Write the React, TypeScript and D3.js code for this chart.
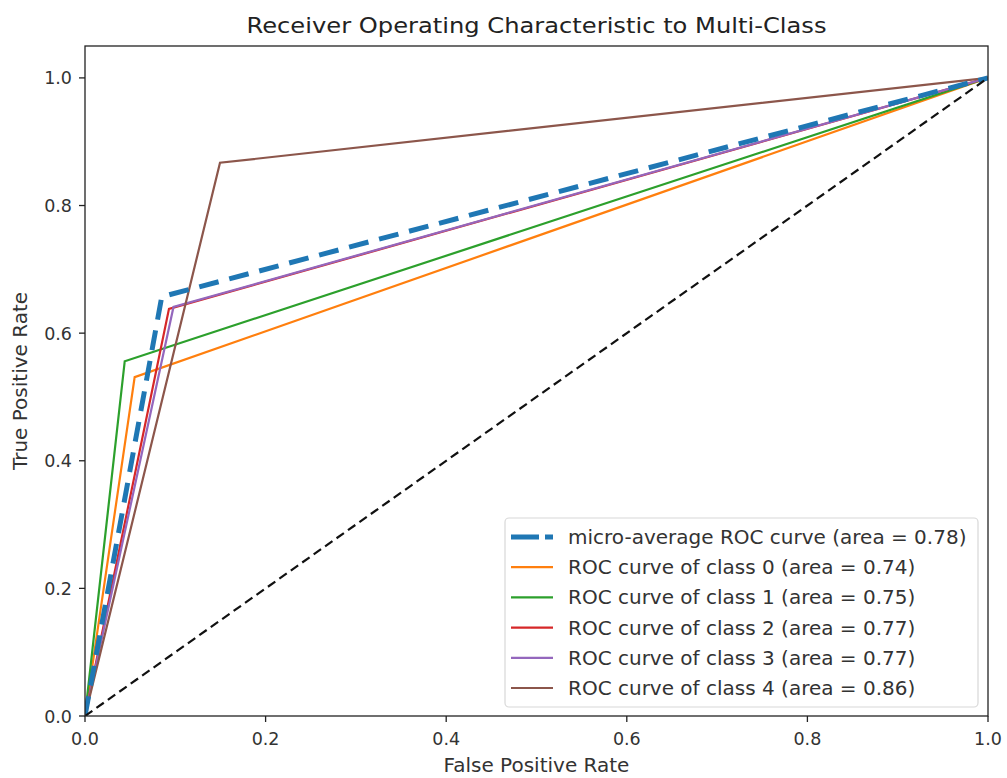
import React from 'react'
import * as d3 from 'd3'

// ROC points: [fpr, tpr]
const microPoints: [number, number][] = [[0, 0], [0.085, 0.657], [1, 1]]
const class0Points: [number, number][] = [[0, 0], [0.055, 0.531], [1, 1]]
const class1Points: [number, number][] = [[0, 0], [0.044, 0.556], [1, 1]]
const class2Points: [number, number][] = [[0, 0], [0.093, 0.638], [1, 1]]
const class3Points: [number, number][] = [[0, 0], [0.098, 0.641], [1, 1]]
const class4Points: [number, number][] = [[0, 0], [0.1495, 0.867], [1, 1]]
const chancePoints: [number, number][] = [[0, 0], [1, 1]]

const seriesLabels = [
  'micro-average ROC curve (area = 0.78)',
  'ROC curve of class 0 (area = 0.74)',
  'ROC curve of class 1 (area = 0.75)',
  'ROC curve of class 2 (area = 0.77)',
  'ROC curve of class 3 (area = 0.77)',
  'ROC curve of class 4 (area = 0.86)',
]
const seriesColors = ['#1f77b4', '#ff7f0e', '#2ca02c', '#d62728', '#9467bd', '#8c564b']
const tickValues = [0, 0.2, 0.4, 0.6, 0.8, 1.0]

const W = 1007
const H = 778
const margin = { left: 85, right: 19, top: 46, bottom: 62 }
const font = 'DejaVu Sans, sans-serif'

export default function App() {
  const x = d3.scaleLinear().domain([0, 1]).range([margin.left, W - margin.right])
  const y = d3.scaleLinear().domain([0, 1.05]).range([H - margin.bottom, margin.top])
  const line = d3.line<[number, number]>().x(d => x(d[0])).y(d => y(d[1]))

  const series = [microPoints, class0Points, class1Points, class2Points, class3Points, class4Points]
  const plotW = x(1) - x(0)
  const plotH = y(0) - y(1.05)

  // legend geometry
  const legX = 505
  const legY = 518
  const legW = 473
  const legH = 189
  const rowH = 30.2

  return (
    <svg width={W} height={H} style={{ position: 'absolute', left: 0, top: 0, background: '#fff' }}>
      <rect x={0} y={0} width={W} height={H} fill="#fff" />
      <defs>
        <clipPath id="plot">
          <rect x={x(0)} y={y(1.05)} width={plotW} height={plotH} />
        </clipPath>
      </defs>

      <g clipPath="url(#plot)">
        {series.slice(1).map((pts, i) => (
          <path key={i} d={line(pts) || ''} fill="none" stroke={seriesColors[i + 1]} strokeWidth={2.2} />
        ))}
        <path d={line(microPoints) || ''} fill="none" stroke={seriesColors[0]} strokeWidth={5}
          strokeDasharray="20 11" />
        <path d={line(chancePoints) || ''} fill="none" stroke="#111" strokeWidth={2.2} strokeDasharray="9 5" />
      </g>

      {/* frame */}
      <rect x={x(0)} y={y(1.05)} width={plotW} height={plotH} fill="none" stroke="#222" strokeWidth={1.3} />

      {/* x axis */}
      {tickValues.map(t => (
        <g key={'x' + t}>
          <line x1={x(t)} x2={x(t)} y1={y(0)} y2={y(0) + 6} stroke="#222" strokeWidth={1.3} />
          <text x={x(t)} y={y(0) + 29} textAnchor="middle" fontFamily={font} fontSize={17.5} fill="#333">
            {t.toFixed(1)}
          </text>
        </g>
      ))}
      {/* y axis */}
      {tickValues.map(t => (
        <g key={'y' + t}>
          <line x1={x(0) - 6} x2={x(0)} y1={y(t)} y2={y(t)} stroke="#222" strokeWidth={1.3} />
          <text x={x(0) - 13} y={y(t) + 6.5} textAnchor="end" fontFamily={font} fontSize={17.5} fill="#333">
            {t.toFixed(1)}
          </text>
        </g>
      ))}

      <text x={(x(0) + x(1)) / 2} y={772} textAnchor="middle" fontFamily={font} fontSize={20} fill="#333">
        False Positive Rate
      </text>
      <text transform={`translate(27, ${(y(0) + y(1.05)) / 2}) rotate(-90)`} textAnchor="middle"
        fontFamily={font} fontSize={20} fill="#333">
        True Positive Rate
      </text>
      <text x={(x(0) + x(1)) / 2} y={33} textAnchor="middle" fontFamily={font} fontSize={22} fill="#222"
        textLength={580} lengthAdjust="spacingAndGlyphs">
        Receiver Operating Characteristic to Multi-Class
      </text>

      {/* legend */}
      <rect x={legX} y={legY} width={legW} height={legH} rx={4} fill="#fff" fillOpacity={0.85}
        stroke="#d8d8d8" strokeWidth={1.2} />
      {seriesLabels.map((label, i) => {
        const cy = legY + 19 + i * rowH
        return (
          <g key={label}>
            {i === 0 ? (
              <line x1={legX + 6} x2={legX + 48} y1={cy} y2={cy} stroke={seriesColors[0]} strokeWidth={5}
                strokeDasharray="28 6" />
            ) : (
              <line x1={legX + 6} x2={legX + 48} y1={cy} y2={cy} stroke={seriesColors[i]} strokeWidth={2.2} />
            )}
            <text x={legX + 63} y={cy + 7} fontFamily={font} fontSize={20} fill="#333">
              {label}
            </text>
          </g>
        )
      })}
    </svg>
  )
}
